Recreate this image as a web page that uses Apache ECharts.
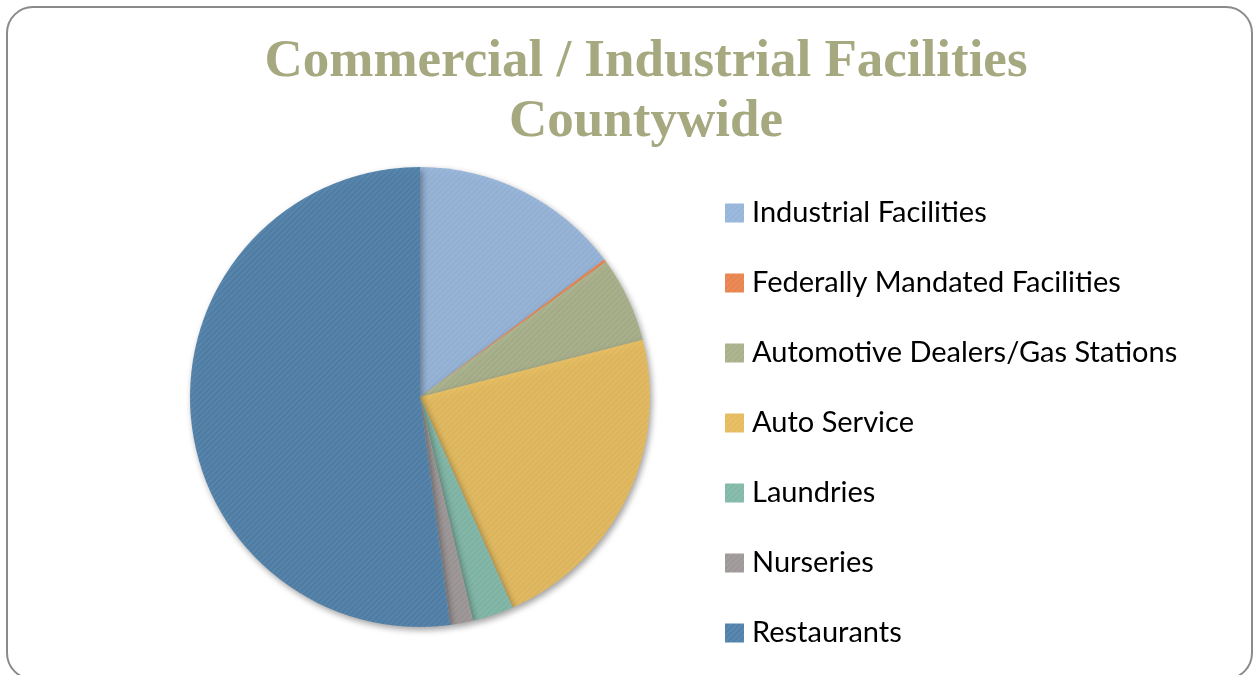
<!DOCTYPE html>
<html>
<head>
<meta charset="utf-8">
<script src="https://cdn.jsdelivr.net/npm/echarts@6/dist/echarts.min.js"></script>
<style>
  html, body { margin: 0; padding: 0; background: #fff; }
  #chart { width: 1253px; height: 675px; }
</style>
</head>
<body>
<div id="chart"></div>
<script>
// facility categories and their share of the pie (percent)
var categories = [
  "Industrial Facilities",
  "Federally Mandated Facilities",
  "Automotive Dealers/Gas Stations",
  "Auto Service",
  "Laundries",
  "Nurseries",
  "Restaurants"
];
var shares = [14.8, 0.2, 6.0, 22.4, 2.9, 1.6, 52.1];
var colors = ["#96B5DA", "#E8834E", "#A8B08A", "#E5BB5D", "#81B8A8", "#9E9797", "#5080A9"];

var myChart = echarts.init(document.getElementById("chart"));

var pieData = categories.map(function (name, i) {
  return { name: name, value: shares[i] };
});

myChart.setOption({
  animation: false,
  color: colors,
  title: {
    text: "Commercial / Industrial Facilities\nCountywide",
    left: 641,
    textAlign: "center",
    top: 27,
    textStyle: {
      fontFamily: "Liberation Serif",
      fontWeight: "bold",
      fontSize: 53,
      lineHeight: 60,
      color: "#A6A980"
    }
  },
  legend: {
    orient: "vertical",
    left: 720,
    top: 193,
    icon: "rect",
    itemWidth: 19,
    itemHeight: 19,
    itemGap: 40,
    selectedMode: false,
    textStyle: {
      fontFamily: "Lato",
      fontSize: 29,
      lineHeight: 30,
      color: "#000",
      padding: [0, 0, 0, 3]
    },
    data: categories
  },
  graphic: [
    {
      type: "rect",
      silent: true,
      shape: { x: 7, y: 7, width: 1245, height: 672, r: 26 },
      style: { fill: "none", stroke: "#8a8a8a", lineWidth: 2 }
    }
  ],
  series: [
    {
      type: "pie",
      center: [420, 397],
      radius: 230,
      startAngle: 90,
      clockwise: true,
      label: { show: false },
      labelLine: { show: false },
      itemStyle: {
        borderWidth: 0,
        shadowBlur: 6,
        shadowOffsetX: 2,
        shadowOffsetY: 3,
        shadowColor: "rgba(0,0,0,0.35)",
        decal: {
          symbol: "rect",
          symbolSize: 1,
          dashArrayX: [1, 0],
          dashArrayY: [2, 2],
          rotation: -Math.PI / 4,
          color: "rgba(255,255,255,0.07)"
        }
      },
      emphasis: { disabled: true },
      data: pieData
    }
  ]
});
</script>
</body>
</html>
